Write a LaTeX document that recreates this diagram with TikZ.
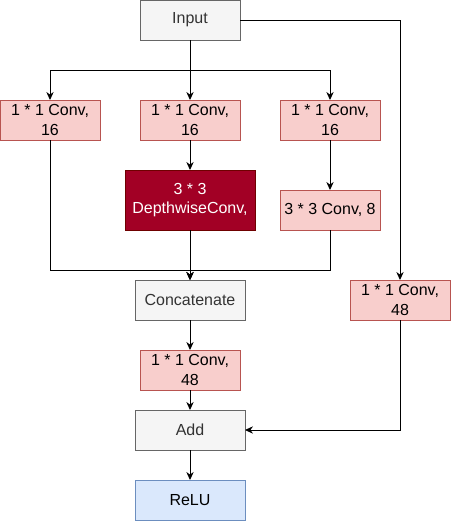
\documentclass[tikz,border=0pt]{standalone}
\usepackage{fontspec}
\setmainfont{Liberation Sans}
\usetikzlibrary{
  arrows.meta,
  positioning
}
\definecolor{greyfill}{HTML}{F5F5F5}
\definecolor{greyline}{HTML}{666666}
\definecolor{greytext}{HTML}{333333}
\definecolor{pinkfill}{HTML}{F8CECC}
\definecolor{pinkline}{HTML}{B85450}
\definecolor{dwfill}{HTML}{A20025}
\definecolor{dwline}{HTML}{6F0000}
\definecolor{bluefill}{HTML}{DAE8FC}
\definecolor{blueline}{HTML}{6C8EBF}
\tikzset{
  box/.style      = {draw, rectangle, align=center, outer sep=0pt,
                     inner sep=2pt, line width=0.75pt,
                     font=\fontsize{12}{14.4}\selectfont},
  grey/.style     = {box, fill=greyfill, draw=greyline, text=greytext,
                     minimum width=82.5pt, minimum height=30pt},
  conv/.style     = {box, fill=pinkfill, draw=pinkline,
                     minimum width=75pt, minimum height=30pt},
  dwconv/.style   = {box, fill=dwfill, draw=dwline, text=white,
                     minimum width=97.5pt, minimum height=45pt},
  outbox/.style   = {box, fill=bluefill, draw=blueline,
                     minimum width=82.5pt, minimum height=30pt},
  arrow/.style    = {-{Stealth[length=6pt,width=5.5pt]}, line width=0.75pt},
}
\begin{document}
\begin{tikzpicture}
\useasboundingbox (0,0) rectangle (338.25pt,-390.75pt);

\node[grey, minimum width=75pt] (in) at (142.5pt,-15pt) {Input};

\node[conv, below=45pt of in] (c2) {1 * 1 Conv,\\16};
\node[conv, left=30pt of c2]  (c1) {1 * 1 Conv,\\16};
\node[conv, right=30pt of c2] (c3) {1 * 1 Conv,\\16};

\node[dwconv, below=22.5pt of c2] (dw) {3 * 3\\DepthwiseConv,};
\node[conv, below=37.5pt of c3]   (c4) {3 * 3 Conv, 8};

\node[grey, below=37.5pt of dw]   (cat) {Concatenate};
\node[conv, right=78.75pt of cat] (c5)  {1 * 1 Conv,\\48};
\node[conv, below=22.5pt of cat]  (c6)  {1 * 1 Conv,\\48};
\node[grey, below=15pt of c6]     (add) {Add};
\node[outbox, below=22.5pt of add] (relu) {ReLU};

% straight links
\foreach \a/\b in {in/c2, c2/dw, c3/c4, dw/cat, cat/c6, c6/add, add/relu}
  \draw[arrow] (\a.south) -- (\b.north);

% split and merge of the branches
\draw[arrow] (in.south) -- ++(0,-22.5pt) -| (c1.north);
\draw[arrow] (in.south) -- ++(0,-22.5pt) -| (c3.north);
\draw[arrow] (c1.south) -- ++(0,-97.5pt) -| (cat.north);
\draw[arrow] (c4.south) -- ++(0,-30pt) -| (cat.north);

% shortcut
\draw[arrow] (in.east) -| (c5.north);
\draw[arrow] (c5.south) |- (add.east);
\end{tikzpicture}
\end{document}
